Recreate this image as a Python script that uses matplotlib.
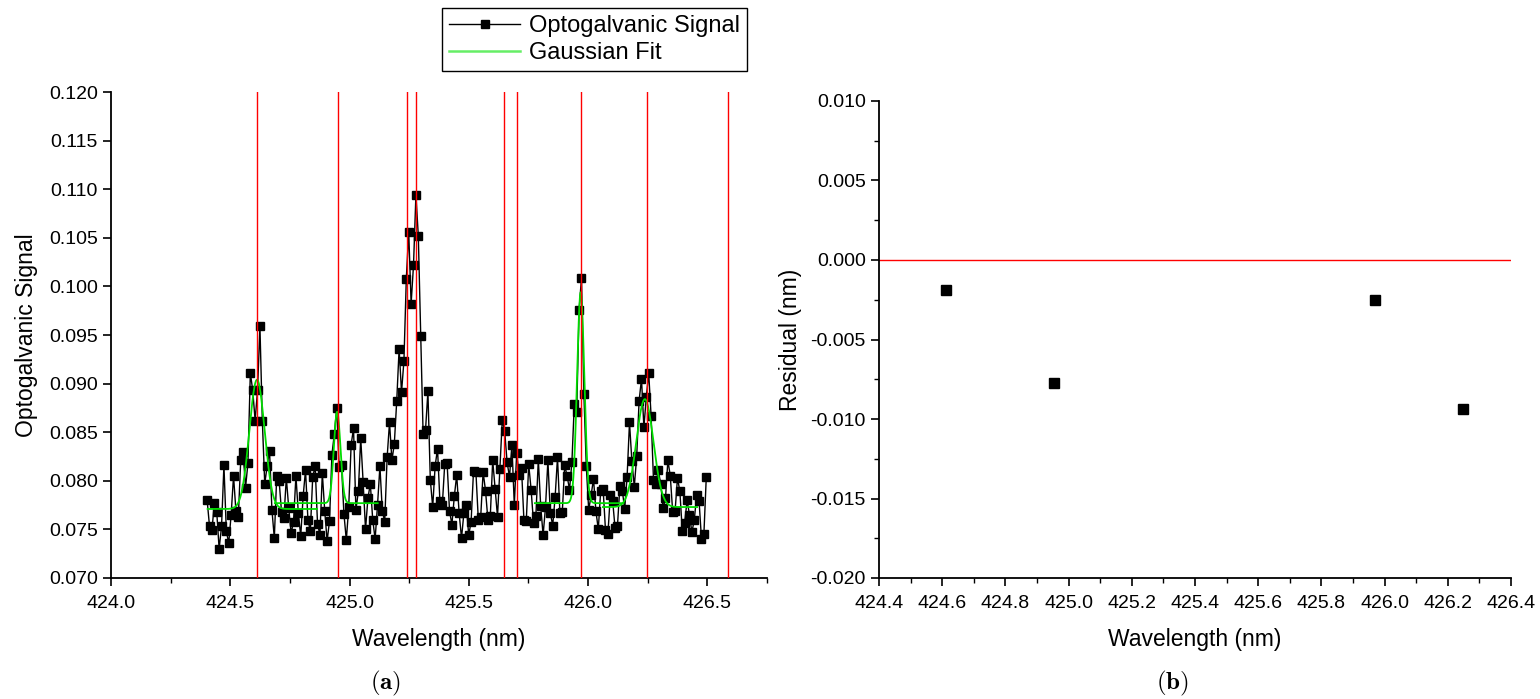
import numpy as np
import matplotlib
matplotlib.use("Agg")
import matplotlib.pyplot as plt
from matplotlib.ticker import MultipleLocator, FormatStrFormatter
from matplotlib.lines import Line2D

plt.rcParams['font.family'] = ['Liberation Sans', 'DejaVu Sans']
plt.rcParams['axes.unicode_minus'] = False
plt.rcParams['mathtext.fontset'] = 'cm'

# ---------------- data ----------------
scan_start = 424.403
scan_step = 0.01006
signal = [
    0.0780, 0.0753, 0.0749, 0.0777, 0.0768, 0.0730, 0.0753, 0.0816, 0.0748, 0.0736,
    0.0765, 0.0805, 0.0769, 0.0763, 0.0821, 0.0830, 0.0793, 0.0818, 0.0911, 0.0893,
    0.0862, 0.0893, 0.0959, 0.0862, 0.0797, 0.0815, 0.0831, 0.0770, 0.0741, 0.0805,
    0.0800, 0.0768, 0.0762, 0.0803, 0.0772, 0.0746, 0.0758, 0.0805, 0.0767, 0.0743,
    0.0784, 0.0811, 0.0760, 0.0748, 0.0804, 0.0815, 0.0756, 0.0744, 0.0808, 0.0769,
    0.0738, 0.0759, 0.0827, 0.0848, 0.0875, 0.0814, 0.0816, 0.0766, 0.0739, 0.0773,
    0.0837, 0.0854, 0.0770, 0.0789, 0.0844, 0.0799, 0.0750, 0.0782, 0.0797, 0.0760,
    0.0740, 0.0775, 0.0815, 0.0769, 0.0758, 0.0824, 0.0860, 0.0821, 0.0838, 0.0882,
    0.0936, 0.0891, 0.0923, 0.1008, 0.1056, 0.0982, 0.1022, 0.1094, 0.1052, 0.0949,
    0.0848, 0.0852, 0.0892, 0.0801, 0.0773, 0.0815, 0.0833, 0.0779, 0.0775, 0.0817,
    0.0818, 0.0769, 0.0755, 0.0784, 0.0806, 0.0767, 0.0741, 0.0767, 0.0775, 0.0744,
    0.0758, 0.0810, 0.0809, 0.0760, 0.0763, 0.0809, 0.0790, 0.0760, 0.0764, 0.0821,
    0.0792, 0.0763, 0.0812, 0.0863, 0.0851, 0.0819, 0.0804, 0.0837, 0.0775, 0.0829,
    0.0806, 0.0813, 0.0760, 0.0759, 0.0817, 0.0791, 0.0757, 0.0764, 0.0822, 0.0774,
    0.0744, 0.0773, 0.0821, 0.0767, 0.0754, 0.0783, 0.0824, 0.0767, 0.0768, 0.0816,
    0.0805, 0.0791, 0.0819, 0.0879, 0.0871, 0.0976, 0.1009, 0.0889, 0.0815, 0.0770,
    0.0785, 0.0802, 0.0769, 0.0750, 0.0790, 0.0792, 0.0749, 0.0745, 0.0785, 0.0779,
    0.0751, 0.0754, 0.0795, 0.0790, 0.0771, 0.0804, 0.0860, 0.0820, 0.0794, 0.0825,
    0.0882, 0.0905, 0.0855, 0.0886, 0.0911, 0.0867, 0.0801, 0.0797, 0.0811, 0.0797,
    0.0772, 0.0782, 0.0821, 0.0805, 0.0768, 0.0769, 0.0803, 0.0789, 0.0748, 0.0757,
    0.0780, 0.0765, 0.0747, 0.0760, 0.0785, 0.0779, 0.0740, 0.0745, 0.0804,
]
wavelength = scan_start + scan_step * np.arange(len(signal))

# Gaussian fit segments (parameters)
fit_start = [424.405, 424.687, 425.777, 426.062]
fit_end = [424.864, 425.118, 426.148, 426.457]
fit_center = [424.612, 424.948, 425.969, 426.238]
fit_base = [0.0771, 0.0777, 0.0777, 0.0773]
fit_amp = [0.0133, 0.0094, 0.0217, 0.0111]
fit_sigma = [0.032, 0.014, 0.015, 0.036]

# reference line positions (nm)
ref_lines = [424.611, 424.953, 425.241, 425.277, 425.648, 425.701,
             425.972, 426.247, 426.588]

# residuals
res_wl = [424.613, 424.954, 425.971, 426.247]
res_val = [-0.00188, -0.00775, -0.00250, -0.00937]

# ---------------- figure ----------------
fig = plt.figure(figsize=(15.4, 6.99), dpi=100)
W, H = 1540, 699
axL = fig.add_axes([111 / W, 1 - 578 / H, (767 - 111) / W, (578 - 92) / H])
axR = fig.add_axes([879 / W, 1 - 578 / H, (1511 - 879) / W, (578 - 101) / H])

green = '#00dd00'

# left panel
axL.plot(wavelength, signal, color='black', lw=1.0, marker='s', ms=5.2,
         mfc='black', mec='black', zorder=3)
for s, e, c, b, a, sg in zip(fit_start, fit_end, fit_center, fit_base, fit_amp, fit_sigma):
    xx = np.linspace(s, e, 300)
    axL.plot(xx, b + a * np.exp(-0.5 * ((xx - c) / sg) ** 2), color=green, lw=1.3, zorder=4)
for x in ref_lines:
    axL.axvline(x, color='red', lw=1.0, zorder=5)

axL.set_xlim(424.0, 426.75)
axL.set_ylim(0.070, 0.120)
axL.xaxis.set_major_locator(MultipleLocator(0.5))
axL.xaxis.set_minor_locator(MultipleLocator(0.25))
axL.yaxis.set_major_locator(MultipleLocator(0.005))
axL.xaxis.set_major_formatter(FormatStrFormatter('%.1f'))
axL.yaxis.set_major_formatter(FormatStrFormatter('%.3f'))
axL.set_xlabel('Wavelength (nm)', fontsize=16.5, labelpad=12)
axL.set_ylabel('Optogalvanic Signal', fontsize=16.5, labelpad=8)

# right panel
axR.plot(res_wl, res_val, ls='none', marker='s', ms=7.5, mfc='black', mec='black', zorder=3)
axR.axhline(0.0, color='red', lw=1.0, zorder=2)
axR.set_xlim(424.4, 426.4)
axR.set_ylim(-0.020, 0.010)
axR.xaxis.set_major_locator(MultipleLocator(0.2))
axR.xaxis.set_minor_locator(MultipleLocator(0.1))
axR.yaxis.set_major_locator(MultipleLocator(0.005))
axR.yaxis.set_minor_locator(MultipleLocator(0.0025))
axR.xaxis.set_major_formatter(FormatStrFormatter('%.1f'))
axR.yaxis.set_major_formatter(FormatStrFormatter('%.3f'))
axR.set_xlabel('Wavelength (nm)', fontsize=16.5, labelpad=12)
axR.set_ylabel('Residual (nm)', fontsize=16.5, labelpad=6)

for ax in (axL, axR):
    ax.spines['top'].set_visible(False)
    ax.spines['right'].set_visible(False)
    ax.spines['left'].set_linewidth(1.3)
    ax.spines['bottom'].set_linewidth(1.3)
    ax.tick_params(which='major', direction='out', length=6, width=1.2, labelsize=14)
    ax.tick_params(which='minor', direction='out', length=3.5, width=1.0)
    ax.tick_params(axis='x', pad=6)

# legend
handles = [Line2D([], [], color='black', lw=1.0, marker='s', ms=5.2),
           Line2D([], [], color='#66ee66', lw=1.8)]
leg = fig.legend(handles, ['Optogalvanic Signal', 'Gaussian Fit'],
                 loc='upper left', bbox_to_anchor=(442 / W, 1 - 8 / H),
                 fontsize=17, frameon=True, fancybox=False, framealpha=1,
                 edgecolor='black', handlelength=3.0, numpoints=1,
                 borderpad=0.3, labelspacing=0.2, handletextpad=0.4,
                 borderaxespad=0)
leg.get_frame().set_linewidth(1.0)

# captions
fig.text(386 / W, 1 - 683 / H, r'$\mathbf{(a)}$', ha='center', va='center', fontsize=18)
fig.text(1172 / W, 1 - 683 / H, r'$\mathbf{(b)}$', ha='center', va='center', fontsize=18)

fig.savefig('out.png', dpi=100)
